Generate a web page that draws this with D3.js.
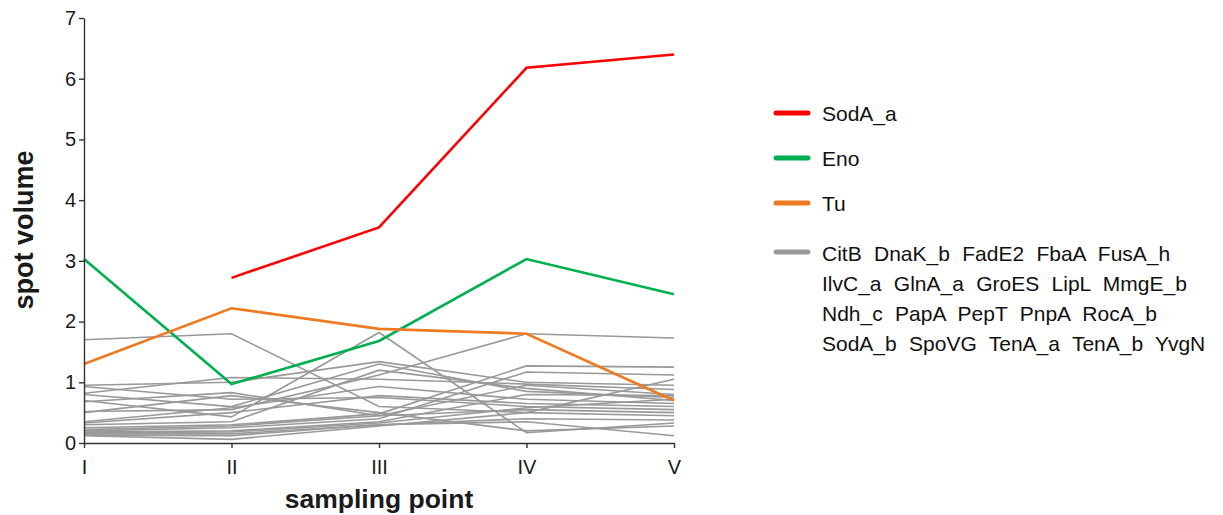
<!DOCTYPE html>
<html>
<head>
<meta charset="utf-8">
<script src="https://cdn.jsdelivr.net/npm/d3@7"></script>
<style>
  html, body { margin: 0; padding: 0; background: #fff; }
  svg { display: block; font-family: "Liberation Sans", Arial, sans-serif; }
</style>
</head>
<body>
<svg id="chart" width="1223" height="515"></svg>
<script>
// Sampling points along the x axis
const samplingPoints = ["I", "II", "III", "IV", "V"];
const yTicks = [0, 1, 2, 3, 4, 5, 6, 7];

// Highlighted proteins (null = not measured)
const sodA_a = [null, 2.72, 3.55, 6.18, 6.40];
const eno    = [3.03, 0.97, 1.68, 3.03, 2.45];
const tu     = [1.30, 2.22, 1.88, 1.80, 0.70];

// Remaining proteins, drawn in grey
const greyNames = ["CitB", "DnaK_b", "FadE2", "FbaA", "FusA_h",
                   "IlvC_a", "GlnA_a", "GroES", "LipL", "MmgE_b",
                   "Ndh_c", "PapA", "PepT", "PnpA", "RocA_b",
                   "SodA_b", "SpoVG", "TenA_a", "TenA_b", "YvgN"];
const greyValues = [
  [1.70, 1.80, 0.60, 0.50, 0.45],
  [0.82, 1.08, 1.05, 0.97, 0.88],
  [0.95, 1.00, 1.34, 1.00, 0.95],
  [0.93, 0.72, 0.75, 0.60, 0.55],
  [0.80, 0.60, 1.30, 0.85, 0.75],
  [0.70, 0.43, 1.82, 0.17, 0.33],
  [0.68, 0.83, 0.45, 0.55, 0.50],
  [0.52, 0.55, 1.12, 1.80, 1.73],
  [0.50, 0.78, 0.50, 0.20, 0.28],
  [0.35, 0.58, 0.93, 0.72, 0.65],
  [0.33, 0.50, 0.78, 0.65, 0.60],
  [0.30, 0.35, 1.20, 0.90, 0.70],
  [0.25, 0.30, 0.48, 1.27, 1.25],
  [0.22, 0.28, 0.45, 0.95, 0.80],
  [0.20, 0.25, 0.40, 1.17, 1.12],
  [0.18, 0.20, 0.35, 0.80, 0.78],
  [0.17, 0.18, 0.33, 0.58, 0.72],
  [0.15, 0.15, 0.30, 0.40, 0.38],
  [0.13, 0.12, 0.30, 0.35, 0.12],
  [0.12, 0.06, 0.28, 0.50, 1.05]
];

const highlighted = [
  { name: "SodA_a", values: sodA_a, color: "#ff0000" },
  { name: "Eno",    values: eno,    color: "#00b050" },
  { name: "Tu",     values: tu,     color: "#ee7a22" }
];
const greyColor = "#999999";

const svg = d3.select("#chart");
const plotLeft = 84, plotRight = 674, plotTop = 18, plotBottom = 443;

const x = d3.scalePoint().domain(samplingPoints).range([plotLeft, plotRight]);
const y = d3.scaleLinear().domain([0, 7]).range([plotBottom, plotTop]);

const line = d3.line()
  .defined(d => d.v != null)
  .x(d => x(d.p))
  .y(d => y(d.v));
const toPts = vals => vals.map((v, i) => ({ p: samplingPoints[i], v }));

// Grey lines underneath
svg.append("g").selectAll("path")
  .data(greyValues)
  .join("path")
  .attr("d", vals => line(toPts(vals)))
  .attr("fill", "none")
  .attr("stroke", greyColor)
  .attr("stroke-width", 1.6);

// Highlighted lines
svg.append("g").selectAll("path")
  .data(highlighted)
  .join("path")
  .attr("d", s => line(toPts(s.values)))
  .attr("fill", "none")
  .attr("stroke", s => s.color)
  .attr("stroke-width", 2.6);

// Axes
const yAxis = svg.append("g")
  .attr("transform", `translate(${plotLeft},0)`)
  .call(d3.axisLeft(y).tickValues(yTicks).tickFormat(d3.format("d"))
    .tickSize(5).tickSizeOuter(0).tickPadding(3));
const xAxis = svg.append("g")
  .attr("transform", `translate(0,${plotBottom})`)
  .call(d3.axisBottom(x).tickSize(5).tickSizeOuter(0).tickPadding(12));
[yAxis, xAxis].forEach(g => {
  g.selectAll("path.domain").attr("stroke", "#333").attr("stroke-width", 1.4);
  g.selectAll(".tick line").attr("stroke", "#333").attr("stroke-width", 1.4);
  g.selectAll(".tick text").attr("fill", "#1a1a1a").style("font-size", "20px")
    .style("font-family", "'Liberation Sans', Arial, sans-serif");
});

// Axis titles
svg.append("text")
  .attr("x", 379).attr("y", 508)
  .attr("text-anchor", "middle")
  .style("font-size", "26.5px").style("font-weight", "bold").attr("fill", "#1a1a1a")
  .text("sampling point");
svg.append("text")
  .attr("transform", `translate(33,230) rotate(-90)`)
  .attr("text-anchor", "middle")
  .style("font-size", "27px").style("font-weight", "bold").attr("fill", "#1a1a1a")
  .text("spot volume");

// Legend
const legend = svg.append("g");
const legendItems = highlighted.map(s => ({ color: s.color, lines: [s.name] }));
const greyLines = [];
for (let i = 0; i < greyNames.length; i += 5) greyLines.push(greyNames.slice(i, i + 5).join(" "));
legendItems.push({ color: greyColor, lines: greyLines });
const swatchY = [113, 158, 203, 252];
const baselineY = [120.5, 166, 210.5, 260.5];
legendItems.forEach((item, i) => {
  legend.append("line")
    .attr("x1", 776).attr("x2", 808).attr("y1", swatchY[i]).attr("y2", swatchY[i])
    .attr("stroke", item.color).attr("stroke-width", 5).attr("stroke-linecap", "round");
  item.lines.forEach((t, j) => {
    legend.append("text")
      .attr("x", 822).attr("y", baselineY[i] + j * 30.3)
      .style("font-size", "21px").style("word-spacing", "6.5px").attr("fill", "#111")
      .text(t);
  });
});
</script>
</body>
</html>
